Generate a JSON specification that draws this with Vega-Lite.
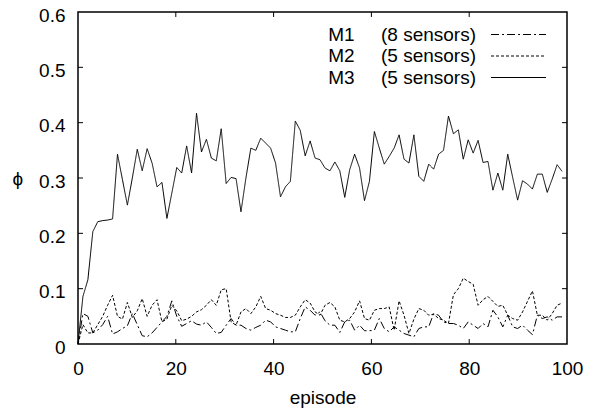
{
  "$schema": "https://vega.github.io/schema/vega-lite/v6.json",
  "width": 489,
  "height": 332,
  "autosize": "none",
  "padding": {"left": 78, "top": 12, "right": 39, "bottom": 70},
  "background": "white",
  "config": {
    "view": {"stroke": "black", "strokeWidth": 1.5},
    "font": "Liberation Sans",
    "axis": {
      "grid": false,
      "domain": false,
      "ticks": false,
      "labelFlush": false,
      "labelColor": "black",
      "titleColor": "black",
      "labelFont": "Liberation Sans",
      "titleFont": "Liberation Sans",
      "labelFontSize": 19,
      "titleFontSize": 19,
      "titleFontWeight": "normal"
    }
  },
  "layer": [
    {
      "data": {
        "values": [
          {"episode": 0, "phi": 0, "model": "M1"},
          {"episode": 1.01, "phi": 0.055, "model": "M1"},
          {"episode": 2.02, "phi": 0.05, "model": "M1"},
          {"episode": 3.03, "phi": 0.02, "model": "M1"},
          {"episode": 4.04, "phi": 0.025, "model": "M1"},
          {"episode": 5.05, "phi": 0.035, "model": "M1"},
          {"episode": 6.06, "phi": 0.05, "model": "M1"},
          {"episode": 7.07, "phi": 0.018, "model": "M1"},
          {"episode": 8.08, "phi": 0.022, "model": "M1"},
          {"episode": 9.09, "phi": 0.028, "model": "M1"},
          {"episode": 10.1, "phi": 0.033, "model": "M1"},
          {"episode": 11.11, "phi": 0.055, "model": "M1"},
          {"episode": 12.12, "phi": 0.035, "model": "M1"},
          {"episode": 13.13, "phi": 0.015, "model": "M1"},
          {"episode": 14.14, "phi": 0.013, "model": "M1"},
          {"episode": 15.15, "phi": 0.02, "model": "M1"},
          {"episode": 16.16, "phi": 0.03, "model": "M1"},
          {"episode": 17.17, "phi": 0.04, "model": "M1"},
          {"episode": 18.18, "phi": 0.05, "model": "M1"},
          {"episode": 19.19, "phi": 0.078, "model": "M1"},
          {"episode": 20.2, "phi": 0.05, "model": "M1"},
          {"episode": 21.21, "phi": 0.032, "model": "M1"},
          {"episode": 22.22, "phi": 0.037, "model": "M1"},
          {"episode": 23.23, "phi": 0.042, "model": "M1"},
          {"episode": 24.24, "phi": 0.036, "model": "M1"},
          {"episode": 25.25, "phi": 0.034, "model": "M1"},
          {"episode": 26.26, "phi": 0.04, "model": "M1"},
          {"episode": 27.27, "phi": 0.03, "model": "M1"},
          {"episode": 28.28, "phi": 0.019, "model": "M1"},
          {"episode": 29.29, "phi": 0.021, "model": "M1"},
          {"episode": 30.3, "phi": 0.034, "model": "M1"},
          {"episode": 31.31, "phi": 0.046, "model": "M1"},
          {"episode": 32.32, "phi": 0.034, "model": "M1"},
          {"episode": 33.33, "phi": 0.034, "model": "M1"},
          {"episode": 34.34, "phi": 0.028, "model": "M1"},
          {"episode": 35.35, "phi": 0.025, "model": "M1"},
          {"episode": 36.36, "phi": 0.03, "model": "M1"},
          {"episode": 37.37, "phi": 0.034, "model": "M1"},
          {"episode": 38.38, "phi": 0.043, "model": "M1"},
          {"episode": 39.39, "phi": 0.04, "model": "M1"},
          {"episode": 40.4, "phi": 0.031, "model": "M1"},
          {"episode": 41.41, "phi": 0.028, "model": "M1"},
          {"episode": 42.42, "phi": 0.025, "model": "M1"},
          {"episode": 43.43, "phi": 0.022, "model": "M1"},
          {"episode": 44.44, "phi": 0.022, "model": "M1"},
          {"episode": 45.45, "phi": 0.046, "model": "M1"},
          {"episode": 46.46, "phi": 0.067, "model": "M1"},
          {"episode": 47.47, "phi": 0.061, "model": "M1"},
          {"episode": 48.48, "phi": 0.052, "model": "M1"},
          {"episode": 49.49, "phi": 0.058, "model": "M1"},
          {"episode": 50.51, "phi": 0.042, "model": "M1"},
          {"episode": 51.52, "phi": 0.034, "model": "M1"},
          {"episode": 52.53, "phi": 0.034, "model": "M1"},
          {"episode": 53.54, "phi": 0.021, "model": "M1"},
          {"episode": 54.55, "phi": 0.04, "model": "M1"},
          {"episode": 55.56, "phi": 0.043, "model": "M1"},
          {"episode": 56.57, "phi": 0.025, "model": "M1"},
          {"episode": 57.58, "phi": 0.034, "model": "M1"},
          {"episode": 58.59, "phi": 0.024, "model": "M1"},
          {"episode": 59.6, "phi": 0.024, "model": "M1"},
          {"episode": 60.61, "phi": 0.025, "model": "M1"},
          {"episode": 61.62, "phi": 0.046, "model": "M1"},
          {"episode": 62.63, "phi": 0.028, "model": "M1"},
          {"episode": 63.64, "phi": 0.022, "model": "M1"},
          {"episode": 64.65, "phi": 0.031, "model": "M1"},
          {"episode": 65.66, "phi": 0.025, "model": "M1"},
          {"episode": 66.67, "phi": 0.019, "model": "M1"},
          {"episode": 67.68, "phi": 0.016, "model": "M1"},
          {"episode": 68.69, "phi": 0.013, "model": "M1"},
          {"episode": 69.7, "phi": 0.028, "model": "M1"},
          {"episode": 70.71, "phi": 0.031, "model": "M1"},
          {"episode": 71.72, "phi": 0.031, "model": "M1"},
          {"episode": 72.73, "phi": 0.055, "model": "M1"},
          {"episode": 73.74, "phi": 0.052, "model": "M1"},
          {"episode": 74.75, "phi": 0.04, "model": "M1"},
          {"episode": 75.76, "phi": 0.037, "model": "M1"},
          {"episode": 76.77, "phi": 0.037, "model": "M1"},
          {"episode": 77.78, "phi": 0.034, "model": "M1"},
          {"episode": 78.79, "phi": 0.028, "model": "M1"},
          {"episode": 79.8, "phi": 0.04, "model": "M1"},
          {"episode": 80.81, "phi": 0.034, "model": "M1"},
          {"episode": 81.82, "phi": 0.028, "model": "M1"},
          {"episode": 82.83, "phi": 0.037, "model": "M1"},
          {"episode": 83.84, "phi": 0.031, "model": "M1"},
          {"episode": 84.85, "phi": 0.061, "model": "M1"},
          {"episode": 85.86, "phi": 0.049, "model": "M1"},
          {"episode": 86.87, "phi": 0.031, "model": "M1"},
          {"episode": 87.88, "phi": 0.052, "model": "M1"},
          {"episode": 88.89, "phi": 0.031, "model": "M1"},
          {"episode": 89.9, "phi": 0.028, "model": "M1"},
          {"episode": 90.91, "phi": 0.034, "model": "M1"},
          {"episode": 91.92, "phi": 0.025, "model": "M1"},
          {"episode": 92.93, "phi": 0.017, "model": "M1"},
          {"episode": 93.94, "phi": 0.052, "model": "M1"},
          {"episode": 94.95, "phi": 0.046, "model": "M1"},
          {"episode": 95.96, "phi": 0.049, "model": "M1"},
          {"episode": 96.97, "phi": 0.043, "model": "M1"},
          {"episode": 97.98, "phi": 0.049, "model": "M1"},
          {"episode": 98.99, "phi": 0.049, "model": "M1"},
          {"episode": 0, "phi": 0, "model": "M2"},
          {"episode": 1.01, "phi": 0.035, "model": "M2"},
          {"episode": 2.02, "phi": 0.02, "model": "M2"},
          {"episode": 3.03, "phi": 0.02, "model": "M2"},
          {"episode": 4.04, "phi": 0.035, "model": "M2"},
          {"episode": 5.05, "phi": 0.05, "model": "M2"},
          {"episode": 6.06, "phi": 0.07, "model": "M2"},
          {"episode": 7.07, "phi": 0.088, "model": "M2"},
          {"episode": 8.08, "phi": 0.05, "model": "M2"},
          {"episode": 9.09, "phi": 0.045, "model": "M2"},
          {"episode": 10.1, "phi": 0.075, "model": "M2"},
          {"episode": 11.11, "phi": 0.048, "model": "M2"},
          {"episode": 12.12, "phi": 0.06, "model": "M2"},
          {"episode": 13.13, "phi": 0.082, "model": "M2"},
          {"episode": 14.14, "phi": 0.05, "model": "M2"},
          {"episode": 15.15, "phi": 0.07, "model": "M2"},
          {"episode": 16.16, "phi": 0.08, "model": "M2"},
          {"episode": 17.17, "phi": 0.04, "model": "M2"},
          {"episode": 18.18, "phi": 0.045, "model": "M2"},
          {"episode": 19.19, "phi": 0.07, "model": "M2"},
          {"episode": 20.2, "phi": 0.06, "model": "M2"},
          {"episode": 21.21, "phi": 0.042, "model": "M2"},
          {"episode": 22.22, "phi": 0.045, "model": "M2"},
          {"episode": 23.23, "phi": 0.05, "model": "M2"},
          {"episode": 24.24, "phi": 0.058, "model": "M2"},
          {"episode": 25.25, "phi": 0.062, "model": "M2"},
          {"episode": 26.26, "phi": 0.07, "model": "M2"},
          {"episode": 27.27, "phi": 0.08, "model": "M2"},
          {"episode": 28.28, "phi": 0.07, "model": "M2"},
          {"episode": 29.29, "phi": 0.098, "model": "M2"},
          {"episode": 30.3, "phi": 0.1, "model": "M2"},
          {"episode": 31.31, "phi": 0.04, "model": "M2"},
          {"episode": 32.32, "phi": 0.034, "model": "M2"},
          {"episode": 33.33, "phi": 0.058, "model": "M2"},
          {"episode": 34.34, "phi": 0.064, "model": "M2"},
          {"episode": 35.35, "phi": 0.055, "model": "M2"},
          {"episode": 36.36, "phi": 0.067, "model": "M2"},
          {"episode": 37.37, "phi": 0.086, "model": "M2"},
          {"episode": 38.38, "phi": 0.064, "model": "M2"},
          {"episode": 39.39, "phi": 0.061, "model": "M2"},
          {"episode": 40.4, "phi": 0.055, "model": "M2"},
          {"episode": 41.41, "phi": 0.052, "model": "M2"},
          {"episode": 42.42, "phi": 0.048, "model": "M2"},
          {"episode": 43.43, "phi": 0.048, "model": "M2"},
          {"episode": 44.44, "phi": 0.052, "model": "M2"},
          {"episode": 45.45, "phi": 0.067, "model": "M2"},
          {"episode": 46.46, "phi": 0.08, "model": "M2"},
          {"episode": 47.47, "phi": 0.074, "model": "M2"},
          {"episode": 48.48, "phi": 0.058, "model": "M2"},
          {"episode": 49.49, "phi": 0.052, "model": "M2"},
          {"episode": 50.51, "phi": 0.07, "model": "M2"},
          {"episode": 51.52, "phi": 0.075, "model": "M2"},
          {"episode": 52.53, "phi": 0.067, "model": "M2"},
          {"episode": 53.54, "phi": 0.043, "model": "M2"},
          {"episode": 54.55, "phi": 0.04, "model": "M2"},
          {"episode": 55.56, "phi": 0.046, "model": "M2"},
          {"episode": 56.57, "phi": 0.058, "model": "M2"},
          {"episode": 57.58, "phi": 0.078, "model": "M2"},
          {"episode": 58.59, "phi": 0.046, "model": "M2"},
          {"episode": 59.6, "phi": 0.043, "model": "M2"},
          {"episode": 60.61, "phi": 0.061, "model": "M2"},
          {"episode": 61.62, "phi": 0.064, "model": "M2"},
          {"episode": 62.63, "phi": 0.064, "model": "M2"},
          {"episode": 63.64, "phi": 0.067, "model": "M2"},
          {"episode": 64.65, "phi": 0.025, "model": "M2"},
          {"episode": 65.66, "phi": 0.078, "model": "M2"},
          {"episode": 66.67, "phi": 0.052, "model": "M2"},
          {"episode": 67.68, "phi": 0.019, "model": "M2"},
          {"episode": 68.69, "phi": 0.045, "model": "M2"},
          {"episode": 69.7, "phi": 0.064, "model": "M2"},
          {"episode": 70.71, "phi": 0.061, "model": "M2"},
          {"episode": 71.72, "phi": 0.052, "model": "M2"},
          {"episode": 72.73, "phi": 0.054, "model": "M2"},
          {"episode": 73.74, "phi": 0.046, "model": "M2"},
          {"episode": 74.75, "phi": 0.043, "model": "M2"},
          {"episode": 75.76, "phi": 0.037, "model": "M2"},
          {"episode": 76.77, "phi": 0.089, "model": "M2"},
          {"episode": 77.78, "phi": 0.1, "model": "M2"},
          {"episode": 78.79, "phi": 0.119, "model": "M2"},
          {"episode": 79.8, "phi": 0.113, "model": "M2"},
          {"episode": 80.81, "phi": 0.108, "model": "M2"},
          {"episode": 81.82, "phi": 0.07, "model": "M2"},
          {"episode": 82.83, "phi": 0.08, "model": "M2"},
          {"episode": 83.84, "phi": 0.086, "model": "M2"},
          {"episode": 84.85, "phi": 0.077, "model": "M2"},
          {"episode": 85.86, "phi": 0.068, "model": "M2"},
          {"episode": 86.87, "phi": 0.07, "model": "M2"},
          {"episode": 87.88, "phi": 0.052, "model": "M2"},
          {"episode": 88.89, "phi": 0.046, "model": "M2"},
          {"episode": 89.9, "phi": 0.043, "model": "M2"},
          {"episode": 90.91, "phi": 0.058, "model": "M2"},
          {"episode": 91.92, "phi": 0.077, "model": "M2"},
          {"episode": 92.93, "phi": 0.096, "model": "M2"},
          {"episode": 93.94, "phi": 0.052, "model": "M2"},
          {"episode": 94.95, "phi": 0.052, "model": "M2"},
          {"episode": 95.96, "phi": 0.043, "model": "M2"},
          {"episode": 96.97, "phi": 0.055, "model": "M2"},
          {"episode": 97.98, "phi": 0.07, "model": "M2"},
          {"episode": 98.99, "phi": 0.074, "model": "M2"},
          {"episode": 0, "phi": 0, "model": "M3"},
          {"episode": 1.01, "phi": 0.086, "model": "M3"},
          {"episode": 2.02, "phi": 0.116, "model": "M3"},
          {"episode": 3.03, "phi": 0.203, "model": "M3"},
          {"episode": 4.04, "phi": 0.221, "model": "M3"},
          {"episode": 5.05, "phi": 0.223, "model": "M3"},
          {"episode": 6.06, "phi": 0.224, "model": "M3"},
          {"episode": 7.07, "phi": 0.226, "model": "M3"},
          {"episode": 8.08, "phi": 0.343, "model": "M3"},
          {"episode": 9.09, "phi": 0.297, "model": "M3"},
          {"episode": 10.1, "phi": 0.251, "model": "M3"},
          {"episode": 11.11, "phi": 0.3, "model": "M3"},
          {"episode": 12.12, "phi": 0.352, "model": "M3"},
          {"episode": 13.13, "phi": 0.313, "model": "M3"},
          {"episode": 14.14, "phi": 0.353, "model": "M3"},
          {"episode": 15.15, "phi": 0.327, "model": "M3"},
          {"episode": 16.16, "phi": 0.284, "model": "M3"},
          {"episode": 17.17, "phi": 0.292, "model": "M3"},
          {"episode": 18.18, "phi": 0.227, "model": "M3"},
          {"episode": 19.19, "phi": 0.273, "model": "M3"},
          {"episode": 20.2, "phi": 0.319, "model": "M3"},
          {"episode": 21.21, "phi": 0.309, "model": "M3"},
          {"episode": 22.22, "phi": 0.358, "model": "M3"},
          {"episode": 23.23, "phi": 0.309, "model": "M3"},
          {"episode": 24.24, "phi": 0.417, "model": "M3"},
          {"episode": 25.25, "phi": 0.347, "model": "M3"},
          {"episode": 26.26, "phi": 0.37, "model": "M3"},
          {"episode": 27.27, "phi": 0.336, "model": "M3"},
          {"episode": 28.28, "phi": 0.331, "model": "M3"},
          {"episode": 29.29, "phi": 0.389, "model": "M3"},
          {"episode": 30.3, "phi": 0.29, "model": "M3"},
          {"episode": 31.31, "phi": 0.301, "model": "M3"},
          {"episode": 32.32, "phi": 0.299, "model": "M3"},
          {"episode": 33.33, "phi": 0.239, "model": "M3"},
          {"episode": 34.34, "phi": 0.3, "model": "M3"},
          {"episode": 35.35, "phi": 0.354, "model": "M3"},
          {"episode": 36.36, "phi": 0.35, "model": "M3"},
          {"episode": 37.37, "phi": 0.372, "model": "M3"},
          {"episode": 38.38, "phi": 0.363, "model": "M3"},
          {"episode": 39.39, "phi": 0.354, "model": "M3"},
          {"episode": 40.4, "phi": 0.327, "model": "M3"},
          {"episode": 41.41, "phi": 0.266, "model": "M3"},
          {"episode": 42.42, "phi": 0.284, "model": "M3"},
          {"episode": 43.43, "phi": 0.294, "model": "M3"},
          {"episode": 44.44, "phi": 0.403, "model": "M3"},
          {"episode": 45.45, "phi": 0.386, "model": "M3"},
          {"episode": 46.46, "phi": 0.34, "model": "M3"},
          {"episode": 47.47, "phi": 0.367, "model": "M3"},
          {"episode": 48.48, "phi": 0.336, "model": "M3"},
          {"episode": 49.49, "phi": 0.333, "model": "M3"},
          {"episode": 50.51, "phi": 0.318, "model": "M3"},
          {"episode": 51.52, "phi": 0.313, "model": "M3"},
          {"episode": 52.53, "phi": 0.329, "model": "M3"},
          {"episode": 53.54, "phi": 0.313, "model": "M3"},
          {"episode": 54.55, "phi": 0.265, "model": "M3"},
          {"episode": 55.56, "phi": 0.315, "model": "M3"},
          {"episode": 56.57, "phi": 0.343, "model": "M3"},
          {"episode": 57.58, "phi": 0.318, "model": "M3"},
          {"episode": 58.59, "phi": 0.259, "model": "M3"},
          {"episode": 59.6, "phi": 0.294, "model": "M3"},
          {"episode": 60.61, "phi": 0.384, "model": "M3"},
          {"episode": 61.62, "phi": 0.354, "model": "M3"},
          {"episode": 62.63, "phi": 0.325, "model": "M3"},
          {"episode": 63.64, "phi": 0.339, "model": "M3"},
          {"episode": 64.65, "phi": 0.354, "model": "M3"},
          {"episode": 65.66, "phi": 0.378, "model": "M3"},
          {"episode": 66.67, "phi": 0.334, "model": "M3"},
          {"episode": 67.68, "phi": 0.327, "model": "M3"},
          {"episode": 68.69, "phi": 0.378, "model": "M3"},
          {"episode": 69.7, "phi": 0.303, "model": "M3"},
          {"episode": 70.71, "phi": 0.294, "model": "M3"},
          {"episode": 71.72, "phi": 0.325, "model": "M3"},
          {"episode": 72.73, "phi": 0.316, "model": "M3"},
          {"episode": 73.74, "phi": 0.343, "model": "M3"},
          {"episode": 74.75, "phi": 0.35, "model": "M3"},
          {"episode": 75.76, "phi": 0.412, "model": "M3"},
          {"episode": 76.77, "phi": 0.38, "model": "M3"},
          {"episode": 77.78, "phi": 0.387, "model": "M3"},
          {"episode": 78.79, "phi": 0.334, "model": "M3"},
          {"episode": 79.8, "phi": 0.369, "model": "M3"},
          {"episode": 80.81, "phi": 0.345, "model": "M3"},
          {"episode": 81.82, "phi": 0.368, "model": "M3"},
          {"episode": 82.83, "phi": 0.328, "model": "M3"},
          {"episode": 83.84, "phi": 0.33, "model": "M3"},
          {"episode": 84.85, "phi": 0.278, "model": "M3"},
          {"episode": 85.86, "phi": 0.309, "model": "M3"},
          {"episode": 86.87, "phi": 0.278, "model": "M3"},
          {"episode": 87.88, "phi": 0.343, "model": "M3"},
          {"episode": 88.89, "phi": 0.301, "model": "M3"},
          {"episode": 89.9, "phi": 0.26, "model": "M3"},
          {"episode": 90.91, "phi": 0.295, "model": "M3"},
          {"episode": 91.92, "phi": 0.289, "model": "M3"},
          {"episode": 92.93, "phi": 0.28, "model": "M3"},
          {"episode": 93.94, "phi": 0.307, "model": "M3"},
          {"episode": 94.95, "phi": 0.307, "model": "M3"},
          {"episode": 95.96, "phi": 0.274, "model": "M3"},
          {"episode": 96.97, "phi": 0.298, "model": "M3"},
          {"episode": 97.98, "phi": 0.324, "model": "M3"},
          {"episode": 98.99, "phi": 0.312, "model": "M3"}
        ]
      },
      "mark": {"type": "line", "color": "black", "strokeWidth": 1},
      "encoding": {
        "x": {
          "field": "episode", "type": "quantitative", "title": "episode",
          "scale": {"domain": [0, 100], "nice": false, "zero": false},
          "axis": {"orient": "bottom", "values": [0, 20, 40, 60, 80, 100], "title": "episode", "labelPadding": 15, "titlePadding": 10}
        },
        "y": {
          "field": "phi", "type": "quantitative", "title": "ϕ",
          "scale": {"domain": [0, 0.6], "nice": false},
          "axis": {"orient": "left", "values": [0, 0.1, 0.2, 0.3, 0.4, 0.5, 0.6], "format": ".1~f", "title": "ϕ", "titleAngle": 0, "titleAlign": "right", "titleBaseline": "middle", "titlePadding": 16, "labelPadding": 13, "labelOffset": 3}
        },
        "strokeDash": {
          "field": "model", "type": "nominal",
          "scale": {"domain": ["M1", "M2", "M3"], "range": [[8, 3, 2, 3], [3, 2], [1, 0]]},
          "legend": {
            "orient": "none",
            "legendX": 431,
            "legendY": 13,
            "title": null,
            "symbolType": "M-5,0H5",
            "symbolSize": 121,
            "symbolStrokeWidth": 1,
            "symbolStrokeColor": "black",
            "symbolFillColor": "transparent",
            "symbolOpacity": 1,
            "labelAlign": "right",
            "labelOffset": -52,
            "labelFontSize": 19,
            "labelFont": "Liberation Sans",
            "labelColor": "black",
            "labelLimit": 0,
            "rowPadding": 1.5,
            "labelExpr": "datum.label == 'M1' ? 'M1\u00a0\u00a0\u00a0\u00a0\u00a0(8 sensors)' : datum.label == 'M2' ? 'M2\u00a0\u00a0\u00a0\u00a0\u00a0(5 sensors)' : 'M3\u00a0\u00a0\u00a0\u00a0\u00a0(5 sensors)'"
          }
        }
      }
    },
    {
      "data": {"values": [{"episode": 20}, {"episode": 40}, {"episode": 60}, {"episode": 80}]},
      "mark": {"type": "rule", "color": "black", "strokeWidth": 1},
      "encoding": {
        "x": {"field": "episode", "type": "quantitative", "title": "episode"},
        "y": {"datum": 0, "type": "quantitative", "title": "ϕ"},
        "y2": {"datum": 0.009}
      }
    },
    {
      "data": {"values": [{"episode": 20}, {"episode": 40}, {"episode": 60}, {"episode": 80}]},
      "mark": {"type": "rule", "color": "black", "strokeWidth": 1},
      "encoding": {
        "x": {"field": "episode", "type": "quantitative", "title": "episode"},
        "y": {"datum": 0.6, "type": "quantitative", "title": "ϕ"},
        "y2": {"datum": 0.591}
      }
    },
    {
      "data": {"values": [{"phi": 0.1}, {"phi": 0.2}, {"phi": 0.3}, {"phi": 0.4}, {"phi": 0.5}]},
      "mark": {"type": "rule", "color": "black", "strokeWidth": 1},
      "encoding": {
        "y": {"field": "phi", "type": "quantitative", "title": "ϕ"},
        "x": {"datum": 0, "type": "quantitative", "title": "episode"},
        "x2": {"datum": 1.02}
      }
    },
    {
      "data": {"values": [{"phi": 0.1}, {"phi": 0.2}, {"phi": 0.3}, {"phi": 0.4}, {"phi": 0.5}]},
      "mark": {"type": "rule", "color": "black", "strokeWidth": 1},
      "encoding": {
        "y": {"field": "phi", "type": "quantitative", "title": "ϕ"},
        "x": {"datum": 100, "type": "quantitative", "title": "episode"},
        "x2": {"datum": 98.98}
      }
    }
  ]
}
